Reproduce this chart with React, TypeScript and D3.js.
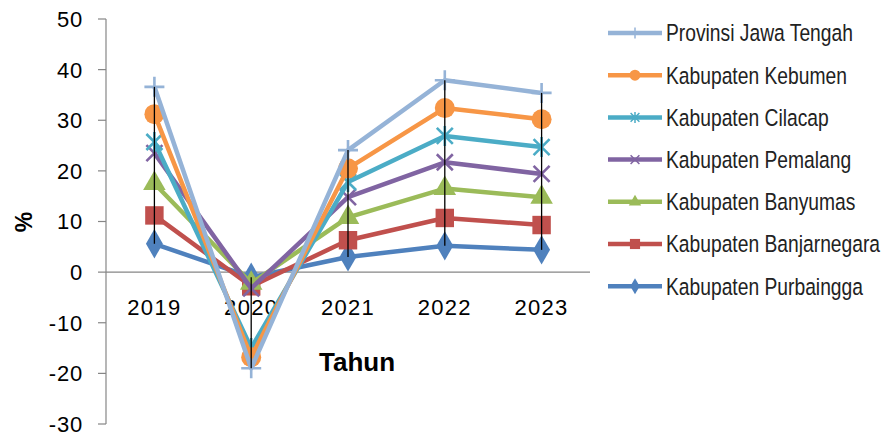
import React from "react";
import * as d3 from "d3";

const years = ["2019", "2020", "2021", "2022", "2023"];
const seriesNames = [
  "Provinsi Jawa Tengah",
  "Kabupaten Kebumen",
  "Kabupaten Cilacap",
  "Kabupaten Pemalang",
  "Kabupaten Banyumas",
  "Kabupaten Banjarnegara",
  "Kabupaten Purbaingga",
];
const provinsiJawaTengah = [36.6, -19.0, 24.1, 37.9, 35.4];
const kebumen = [31.2, -16.8, 20.5, 32.4, 30.2];
const cilacap = [25.7, -15.0, 17.8, 26.9, 24.7];
const pemalang = [23.5, -3.2, 14.8, 21.7, 19.4];
const banyumas = [17.5, -2.2, 10.8, 16.5, 14.8];
const banjarnegara = [11.2, -2.8, 6.3, 10.7, 9.3];
const purbaingga = [5.6, -1.0, 3.0, 5.2, 4.4];
const yTicks = [50, 40, 30, 20, 10, 0, -10, -20, -30];

const seriesValues = [provinsiJawaTengah, kebumen, cilacap, pemalang, banyumas, banjarnegara, purbaingga];
const colors = ["#95B3D7", "#F79646", "#4BACC6", "#8064A2", "#9BBB59", "#C0504D", "#4F81BD"];
const markers = ["plus", "circle", "asterisk", "x", "triangle", "square", "diamond"];

const W = 887;
const H = 436;
const plot = { left: 106, right: 590, top: 19, bottom: 424 };

const x = d3.scaleBand<string>().domain(years).range([plot.left, plot.right]);
const cx = (d: string) => (x(d) ?? 0) + x.bandwidth() / 2;
const y = d3.scaleLinear().domain([-30, 50]).range([plot.bottom, plot.top]);

function Marker({ kind, color, px, py, s, sw }: { kind: string; color: string; px: number; py: number; s: number; sw: number }) {
  const h = s / 2;
  if (kind === "plus") {
    return (
      <path d={`M${px - h},${py}H${px + h}M${px},${py - h}V${py + h}`} stroke={color} strokeWidth={sw} fill="none" />
    );
  }
  if (kind === "x") {
    const k = h * 0.8;
    return (
      <path d={`M${px - k},${py - k}L${px + k},${py + k}M${px - k},${py + k}L${px + k},${py - k}`} stroke={color} strokeWidth={sw} fill="none" />
    );
  }
  if (kind === "asterisk") {
    const k = h * 0.8;
    return (
      <path
        d={`M${px - k},${py - k}L${px + k},${py + k}M${px - k},${py + k}L${px + k},${py - k}M${px},${py - h}V${py + h}`}
        stroke={color}
        strokeWidth={sw}
        fill="none"
      />
    );
  }
  const area = s * s;
  const sym =
    kind === "circle"
      ? d3.symbol(d3.symbolCircle, area * 0.785)
      : kind === "square"
      ? d3.symbol(d3.symbolSquare, area * 0.85)
      : kind === "diamond"
      ? d3.symbol(d3.symbolDiamond, area * 0.62)
      : d3.symbol(d3.symbolTriangle, area * 0.55);
  return <path d={sym() ?? ""} transform={`translate(${px},${py})`} fill={color} />;
}

export default function App() {
  const line = d3
    .line<number>()
    .x((_, i) => cx(years[i]))
    .y((v) => y(v));

  // draw order: last series first so the provincial line sits on top
  const order = d3.range(seriesNames.length).reverse();

  const highLow = years.map((yr, i) => {
    const vals = seriesValues.map((s) => s[i]);
    return { yr, hi: d3.max(vals) as number, lo: d3.min(vals) as number };
  });

  const font = "'Liberation Sans', Arial, sans-serif";

  return (
    <svg width={W} height={H} style={{ position: "absolute", left: 0, top: 0, background: "#fff" }}>
      {/* y axis */}
      <line x1={plot.left} x2={plot.left} y1={plot.top} y2={plot.bottom} stroke="#868686" strokeWidth={1.2} />
      {yTicks.map((t) => (
        <g key={t}>
          <line x1={plot.left - 8} x2={plot.left} y1={y(t)} y2={y(t)} stroke="#868686" strokeWidth={1.2} />
          <text x={83} y={y(t)} dy="0.36em" textAnchor="end" fontFamily={font} fontSize={22} letterSpacing={0.8} fill="#000">
            {t}
          </text>
        </g>
      ))}
      {/* x axis at zero */}
      <line x1={plot.left} x2={plot.right} y1={y(0)} y2={y(0)} stroke="#868686" strokeWidth={1.2} />
      {years.map((yr) => (
        <text key={yr} x={cx(yr)} y={307} dy="0.36em" textAnchor="middle" fontFamily={font} fontSize={22} letterSpacing={1.3} fill="#000">
          {yr}
        </text>
      ))}

      {/* axis titles */}
      <text x={357} y={362} dy="0.36em" textAnchor="middle" fontFamily={font} fontSize={26} fontWeight="bold" fill="#000">
        Tahun
      </text>
      <text
        transform="translate(24,222) rotate(-90)"
        textAnchor="middle"
        dy="0.36em"
        fontFamily={font}
        fontSize={23}
        fontWeight="bold"
        fill="#000"
      >
        %
      </text>

      {/* series lines and markers */}
      {order.map((si) => (
        <g key={seriesNames[si]}>
          <path d={line(seriesValues[si]) ?? ""} fill="none" stroke={colors[si]} strokeWidth={4.5} strokeLinejoin="round" />
          {seriesValues[si].map((v, i) => (
            <Marker key={i} kind={markers[si]} color={colors[si]} px={cx(years[i])} py={y(v)} s={20} sw={2.6} />
          ))}
        </g>
      ))}

      {/* high-low lines */}
      {highLow.map((d) => (
        <line key={d.yr} x1={cx(d.yr)} x2={cx(d.yr)} y1={y(d.hi)} y2={y(d.lo)} stroke="#000" strokeWidth={1.3} />
      ))}

      {/* legend */}
      {seriesNames.map((name, i) => {
        const ly = 33 + i * 42.2;
        return (
          <g key={name}>
            <line x1={608} x2={662} y1={ly} y2={ly} stroke={colors[i]} strokeWidth={4.5} />
            <Marker kind={markers[i]} color={colors[i]} px={635} py={ly} s={11} sw={1.5} />
            <text
              transform={`translate(666,${ly}) scale(0.82,1)`}
              dy="0.36em"
              fontFamily={font}
              fontSize={23.5}
              fill="#222"
            >
              {name}
            </text>
          </g>
        );
      })}
    </svg>
  );
}
